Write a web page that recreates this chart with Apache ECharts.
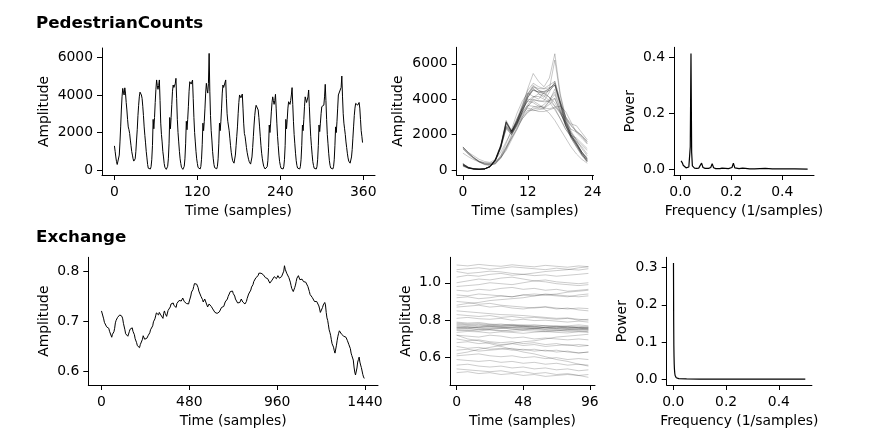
<!DOCTYPE html>
<html><head><meta charset="utf-8">
<script src="https://cdn.jsdelivr.net/npm/echarts@6/dist/echarts.min.js"></script>
<style>html,body{margin:0;padding:0;background:#fff}#c{width:869px;height:447px}</style>
</head><body><div id="c"></div>
<script>
// ---------------- DATA ----------------
// PedestrianCounts: 15 consecutive days, 24 hourly samples each
const pedDays = [
 [1290,1000,700,450,300,250,380,800,1500,2300,3200,3900,4350,4150,4000,4380,4100,3600,3200,2700,2300,2150,1950,1600],
 [1300,990,800,600,480,425,600,1000,1600,2150,2900,3450,3900,4150,4150,4000,3820,3400,2900,2300,1850,1450,1000,650],
 [300,100,60,40,60,180,550,1300,2700,2200,2800,3600,4300,4800,4500,4300,4500,4800,3700,2500,1900,1500,1000,700],
 [350,150,70,40,60,200,600,1400,2800,2200,2800,3500,4200,4530,4400,4440,4600,4885,3800,2700,2000,1500,1000,600],
 [350,150,70,40,60,200,600,1400,2600,2150,2700,3400,4200,4705,4600,4580,4650,4795,3800,2800,2000,1500,1000,600],
 [350,140,60,40,60,190,580,1350,2500,2100,2600,3300,4100,4620,4300,4100,4600,6212,4200,2900,2100,1600,1000,600],
 [300,130,60,50,70,200,600,1400,2500,2100,2600,3300,4100,4530,4400,4400,4500,4800,3800,3000,2600,2500,2100,1700],
 [1300,950,700,500,400,370,450,800,1300,1800,2300,3000,3600,4000,3900,3850,3900,4050,3300,2500,1950,1800,1500,1200],
 [950,750,580,450,350,320,400,700,1200,1800,2400,2900,3250,3450,3500,3450,3200,2800,2300,1800,1300,900,600,380],
 [200,100,60,40,60,180,500,1200,2400,2000,2500,3100,3600,3900,3700,3500,3700,4035,3300,2500,1800,1300,800,450],
 [250,100,50,40,60,180,550,1300,2700,2200,2700,3300,3640,3600,3500,3700,4000,4390,3500,2600,1900,1400,900,500],
 [250,110,50,40,60,180,550,1300,2400,2100,2700,3400,3900,3800,3600,3550,3900,4265,3400,2500,1800,1300,850,450],
 [250,100,50,40,60,180,550,1300,2400,2050,2500,3000,3380,3350,3400,3460,3900,4566,3700,2700,1900,1400,900,500],
 [250,110,50,40,60,180,550,1300,2300,2000,2600,3300,4000,3950,3900,3900,4400,5007,3900,3000,2500,2200,1900,1500],
 [1200,900,650,480,400,370,450,700,1100,1700,2300,2900,3300,3550,3610,3500,3460,3550,3600,3300,2700,2100,1800,1465]
];
// additional daily samples overlaid only in the middle panel
const pedExtraDays = [
 [280,120,50,30,50,170,520,1250,2650,2150,2750,3600,4600,5450,5000,4700,5200,6566,4300,3000,2200,1700,1200,800],
 [1250,950,700,480,350,300,350,650,1200,1900,2600,3200,3700,4100,4300,4200,3900,3600,3300,2900,2500,2200,1900,1600],
 [300,130,50,30,50,170,540,1300,2700,2100,2600,3200,3500,3400,3300,3300,3400,3500,2900,2300,1900,1600,1300,900],
 [320,140,60,40,60,190,560,1350,2750,2200,2900,3700,4500,4900,4700,4600,4800,5000,3900,2800,2000,1500,900,500],
 [1200,900,650,450,320,280,340,700,1300,2000,2800,3500,4100,4500,4400,4300,4100,3800,3200,2600,2100,1700,1400,1100],
 [350,160,70,40,60,200,600,1400,2700,2150,2700,3500,4300,4700,4500,4400,4600,4900,3700,2600,1900,1400,900,550]
];
const pedFreq = [0.0028,0.0056,0.0083,0.0111,0.0139,0.0167,0.0222,0.0278,0.0333,0.0361,0.0389,0.0417,0.0444,0.0472,0.0500,0.0556,0.0639,0.0722,0.0778,0.0833,0.0889,0.0972,0.1111,0.1194,0.1250,0.1306,0.1389,0.1556,0.1639,0.1667,0.1694,0.1889,0.2028,0.2083,0.2139,0.2306,0.2444,0.2500,0.2556,0.2722,0.2917,0.3333,0.3611,0.4000,0.4500,0.5000];
const pedPower = [0.030,0.035,0.022,0.014,0.010,0.007,0.005,0.005,0.008,0.015,0.080,0.415,0.060,0.012,0.006,0.004,0.003,0.004,0.008,0.022,0.006,0.003,0.003,0.006,0.020,0.005,0.002,0.002,0.004,0.006,0.003,0.002,0.006,0.022,0.005,0.002,0.004,0.011,0.003,0.001,0.0015,0.003,0.001,0.001,0.0008,0.0005];

// Exchange: one value every 4 samples (0..1436)
const exchangeStep = 4;
const exchangeValues = [
 0.721,0.724,0.718,0.705,0.698,0.700,0.694,0.689,0.690,0.691,0.686,0.680,0.679,0.676,0.668,0.674,0.676,0.679,0.686,0.697,
 0.702,0.701,0.708,0.709,0.705,0.713,0.716,0.711,0.710,0.705,0.696,0.692,0.683,0.675,0.672,0.675,0.670,0.673,0.679,0.684,
 0.683,0.688,0.687,0.680,0.677,0.673,0.665,0.664,0.657,0.651,0.649,0.650,0.647,0.653,0.655,0.657,0.664,0.671,0.673,0.664,
 0.661,0.666,0.666,0.667,0.672,0.672,0.677,0.683,0.684,0.685,0.691,0.699,0.703,0.705,0.711,0.717,0.719,0.713,0.713,0.718,
 0.717,0.713,0.715,0.709,0.706,0.716,0.721,0.716,0.716,0.710,0.713,0.722,0.726,0.725,0.729,0.735,0.734,0.733,0.737,0.732,
 0.731,0.733,0.728,0.736,0.739,0.738,0.742,0.745,0.743,0.741,0.745,0.747,0.744,0.740,0.740,0.739,0.736,0.737,0.733,0.735,
 0.741,0.745,0.751,0.759,0.762,0.764,0.770,0.776,0.777,0.774,0.775,0.773,0.768,0.761,0.760,0.757,0.750,0.749,0.744,0.739,
 0.740,0.745,0.744,0.737,0.734,0.729,0.729,0.735,0.737,0.731,0.730,0.729,0.725,0.726,0.723,0.718,0.718,0.719,0.716,0.713,
 0.712,0.719,0.722,0.723,0.728,0.732,0.731,0.730,0.734,0.739,0.740,0.741,0.745,0.750,0.751,0.754,0.760,0.758,0.762,0.761,
 0.756,0.756,0.751,0.745,0.741,0.741,0.737,0.741,0.740,0.738,0.741,0.745,0.744,0.739,0.737,0.738,0.735,0.736,0.740,0.746,
 0.750,0.755,0.757,0.758,0.763,0.769,0.771,0.774,0.780,0.780,0.784,0.788,0.788,0.788,0.792,0.797,0.800,0.796,0.797,0.798,
 0.795,0.794,0.797,0.792,0.788,0.792,0.791,0.786,0.784,0.782,0.777,0.778,0.776,0.783,0.786,0.787,0.790,0.792,0.789,0.786,
 0.788,0.792,0.791,0.787,0.787,0.791,0.790,0.789,0.794,0.801,0.812,0.805,0.802,0.797,0.795,0.793,0.788,0.786,0.779,0.772,
 0.766,0.765,0.760,0.762,0.768,0.773,0.780,0.787,0.790,0.792,0.788,0.784,0.782,0.786,0.785,0.781,0.780,0.784,0.783,0.779,
 0.779,0.776,0.770,0.767,0.760,0.754,0.753,0.751,0.748,0.747,0.744,0.740,0.741,0.742,0.740,0.744,0.741,0.731,0.725,0.718,
 0.716,0.722,0.728,0.733,0.736,0.738,0.733,0.718,0.707,0.702,0.693,0.683,0.678,0.672,0.663,0.655,0.651,0.648,0.641,0.636,
 0.640,0.652,0.662,0.670,0.676,0.681,0.682,0.677,0.674,0.676,0.673,0.670,0.671,0.671,0.668,0.664,0.661,0.658,0.653,0.650,
 0.645,0.636,0.631,0.628,0.622,0.608,0.598,0.592,0.590,0.606,0.618,0.623,0.628,0.618,0.612,0.607,0.600,0.593,0.588,0.585
];
// Exchange windows of 96 samples, read every 8 samples
const exchangeWindowTimes = [0,8,16,24,32,40,48,56,64,72,80,88,95];
const exchangeWindows = [
 [.775,.772,.778,.770,.768,.772,.765,.768,.760,.762,.758,.760,.755],
 [.765,.760,.768,.762,.758,.764,.760,.755,.758,.752,.755,.750,.752],
 [.755,.758,.750,.755,.760,.752,.748,.755,.750,.745,.750,.752,.748],
 [.785,.780,.782,.776,.780,.772,.775,.770,.772,.768,.765,.768,.762],
 [.745,.748,.742,.750,.745,.740,.745,.742,.738,.742,.745,.740,.744],
 [.770,.765,.760,.766,.770,.775,.768,.762,.765,.770,.766,.760,.765],
 [.760,.755,.762,.768,.762,.758,.752,.758,.762,.756,.750,.755,.758],
 [.790,.785,.788,.780,.775,.778,.772,.776,.770,.765,.770,.775,.770],
 [.750,.745,.752,.748,.742,.748,.755,.750,.744,.748,.740,.745,.738],
 [.735,.740,.738,.732,.738,.735,.730,.736,.740,.735,.732,.738,.735],
 [.780,.776,.770,.774,.768,.764,.770,.766,.760,.764,.758,.762,.760],
 [.760,.765,.758,.752,.756,.760,.764,.758,.752,.756,.762,.758,.752],
 [1.070,1.075,1.080,1.072,1.078,1.085,1.080,1.075,1.070,1.078,1.072,1.068,1.075],
 [1.060,1.050,1.055,1.062,1.058,1.050,1.045,1.052,1.060,1.065,1.070,1.080,1.085],
 [1.030,1.040,1.035,1.045,1.050,1.040,1.045,1.038,1.042,1.035,1.040,1.045,1.050],
 [1.000,1.010,1.020,1.015,1.025,1.030,1.020,1.010,1.015,1.005,1.000,.995,1.000],
 [.980,.985,.990,1.000,.995,.990,1.000,1.010,1.005,.995,.990,.985,.990],
 [.960,.955,.965,.960,.970,.975,.965,.970,.960,.965,.955,.960,.965],
 [.935,.930,.940,.935,.930,.925,.935,.930,.940,.935,.930,.925,.930],
 [.920,.925,.915,.920,.930,.925,.935,.940,.935,.930,.925,.935,.940],
 [.900,.895,.885,.890,.880,.875,.870,.865,.870,.860,.865,.855,.850],
 [.870,.875,.880,.870,.875,.865,.860,.868,.872,.865,.860,.865,.862],
 [.850,.845,.840,.835,.830,.828,.825,.820,.815,.810,.812,.805,.800],
 [.830,.825,.820,.825,.815,.820,.812,.815,.810,.805,.810,.800,.805],
 [.810,.815,.808,.805,.810,.800,.805,.798,.800,.795,.790,.795,.790],
 [.720,.715,.710,.720,.715,.705,.710,.700,.705,.700,.695,.700,.695],
 [.700,.690,.695,.685,.680,.685,.675,.680,.670,.675,.665,.670,.665],
 [.680,.685,.675,.680,.670,.675,.665,.670,.660,.665,.670,.660,.665],
 [.660,.650,.655,.645,.650,.640,.645,.635,.640,.630,.635,.625,.630],
 [.640,.645,.635,.640,.645,.650,.640,.645,.635,.640,.630,.625,.630],
 [.610,.615,.620,.610,.605,.610,.600,.605,.595,.600,.590,.595,.590],
 [.590,.585,.580,.585,.575,.580,.570,.575,.565,.570,.560,.565,.560],
 [.560,.565,.555,.550,.555,.545,.550,.540,.545,.535,.540,.530,.535],
 [.540,.535,.530,.525,.530,.520,.525,.515,.520,.510,.515,.505,.510],
 [.520,.525,.515,.520,.510,.515,.505,.510,.500,.505,.510,.505,.495],
 [1.095,1.090,1.098,1.092,1.088,1.096,1.090,1.085,1.093,1.088,1.083,1.090,1.086],
 [.720,.700,.690,.675,.660,.645,.630,.620,.605,.590,.580,.565,.555],
 [.880,.890,.895,.905,.910,.915,.920,.930,.935,.940,.950,.955,.960],
 [.620,.630,.645,.655,.665,.675,.685,.690,.700,.710,.715,.720,.725]
];
const exFreq = [0.0007,0.0014,0.0021,0.0028,0.0035,0.0042,0.0056,0.0069,0.0083,0.0111,0.0139,0.0208,0.0278,0.0500,0.1000,0.2000,0.3000,0.4000,0.5000];
const exPower = [0.312,0.160,0.090,0.060,0.040,0.028,0.016,0.010,0.007,0.004,0.0025,0.0015,0.001,0.0006,0.0004,0.0003,0.0002,0.0002,0.0002];

// tick labels
const pedTimeTicks = [0,120,240,360];
const pedAmpTicks = [0,2000,4000,6000];
const dayTimeTicks = [0,12,24];
const freqTicks = [0,0.2,0.4];
const pedPowerTicks = [0,0.2,0.4];
const exTimeTicks = [0,480,960,1440];
const exAmpTicks = [0.6,0.7,0.8];
const winTimeTicks = [0,48,96];
const winAmpTicks = [0.6,0.8,1.0];
const exPowerTicks = [0,0.1,0.2,0.3];

// ---------------- CHART ----------------
const FONT = 'DejaVu Sans';
const FS = 13.9;
const chart = echarts.init(document.getElementById('c'), null, {renderer:'canvas'});

function ax(gi, min, max, ticks, name, gap, dec, isY) {
  return {
    type:'value', gridIndex:gi, min:min, max:max, name:name,
    nameLocation:'middle', nameGap:gap,
    nameTextStyle:{fontFamily:FONT,fontSize:FS,color:'#000'},
    axisLine:{show:true,onZero:false,lineStyle:{color:'#000',width:1}},
    axisTick:{show:true,inside:false,length:5,customValues:ticks,lineStyle:{color:'#000',width:1}},
    axisLabel:{show:true,margin:isY?9:10,customValues:ticks,fontFamily:FONT,fontSize:FS,color:'#000',
      formatter:function(v){return dec?Number(v).toFixed(dec):String(Math.round(v));}},
    splitLine:{show:false}
  };
}

const grids = [
  {left:102, top:48, width:273, height:127},
  {left:456.7, top:47.3, width:136.8, height:127.7},
  {left:674, top:47.3, width:140, height:127.7},
  {left:88.3, top:257.3, width:289.7, height:127.7},
  {left:450, top:257.3, width:145, height:127.7},
  {left:666.7, top:257.3, width:145.2, height:127.7}
];

const xAxes = [
  ax(0,-18,377,pedTimeTicks,'Time (samples)',29,0,false),
  ax(1,-1.15,24.15,dayTimeTicks,'Time (samples)',29,0,false),
  ax(2,-0.025,0.525,freqTicks,'Frequency (1/samples)',29,1,false),
  ax(3,-72,1511,exTimeTicks,'Time (samples)',29,0,false),
  ax(4,-4.75,99.75,winTimeTicks,'Time (samples)',29,0,false),
  ax(5,-0.025,0.525,freqTicks,'Frequency (1/samples)',29,1,false)
];
const yAxes = [
  ax(0,-260,6500,pedAmpTicks,'Amplitude',51,0,true),
  ax(1,-285,6930,pedAmpTicks,'Amplitude',51,0,true),
  ax(2,-0.0208,0.437,pedPowerTicks,'Power',37,1,true),
  ax(3,0.5718,0.829,exAmpTicks,'Amplitude',37,1,true),
  ax(4,0.454,1.136,winAmpTicks,'Amplitude',37,1,true),
  ax(5,-0.0156,0.3276,exPowerTicks,'Power',37,1,true)
];

function lineSeries(i, data, color, width) {
  return {type:'line', xAxisIndex:i, yAxisIndex:i, data:data, showSymbol:false, symbol:'none',
    silent:true, animation:false, lineStyle:{color:color, width:width}, itemStyle:{color:color}};
}

const series = [];
const pedFull = [];
pedDays.forEach(function(day, d){ day.forEach(function(v, h){ pedFull.push([d*24+h, v]); }); });
series.push(lineSeries(0, pedFull, '#000', 1));
pedDays.concat(pedExtraDays).forEach(function(day){
  series.push(lineSeries(1, day.map(function(v,h){return [h,v];}), 'rgba(0,0,0,0.22)', 1));
});
series.push(lineSeries(2, pedFreq.map(function(f,i){return [f, pedPower[i]];}), '#000', 1.2));
series.push(lineSeries(3, exchangeValues.map(function(v,k){return [k*exchangeStep, v];}), '#000', 1));
exchangeWindows.forEach(function(w){
  series.push(lineSeries(4, w.map(function(v,k){return [exchangeWindowTimes[k], v];}), 'rgba(0,0,0,0.2)', 1));
});
series.push(lineSeries(5, exFreq.map(function(f,i){return [f, exPower[i]];}), '#000', 1.2));

chart.setOption({
  backgroundColor:'#fff',
  animation:false,
  title:[
    {text:'PedestrianCounts', left:36, top:15, padding:0, textStyle:{fontFamily:FONT,fontSize:16.7,fontWeight:'bold',color:'#000'}},
    {text:'Exchange', left:36, top:229, padding:0, textStyle:{fontFamily:FONT,fontSize:16.7,fontWeight:'bold',color:'#000'}}
  ],
  grid:grids,
  xAxis:xAxes,
  yAxis:yAxes,
  series:series
});
</script>
</body></html>
